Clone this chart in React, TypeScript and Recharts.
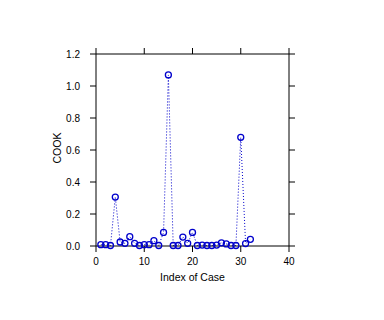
import { ComposedChart, Line, XAxis, YAxis, Label } from 'recharts';

const caseIndex = [
  1, 2, 3, 4, 5, 6, 7, 8, 9, 10, 11, 12, 13, 14, 15, 16,
  17, 18, 19, 20, 21, 22, 23, 24, 25, 26, 27, 28, 29, 30, 31, 32
];

const cookValues = [
  0.008, 0.008, 0.003, 0.306, 0.025, 0.017, 0.058, 0.017, 0.003, 0.008, 0.008, 0.033, 0.003, 0.085, 1.069, 0.003,
  0.003, 0.056, 0.017, 0.085, 0.003, 0.006, 0.003, 0.003, 0.006, 0.02, 0.013, 0.003, 0.003, 0.679, 0.015, 0.042
];

const xTicks = [0, 10, 20, 30, 40];
const yTicks = [0, 0.2, 0.4, 0.6, 0.8, 1.0, 1.2];

const data = caseIndex.map((idx, i) => ({ idx, cook: cookValues[i] }));

const font = 'Liberation Sans, Arial, sans-serif';
const blue = '#0000cc';

export default function App() {
  return (
    <div style={{ position: 'absolute', left: 0, top: 0, background: '#fff' }}>
      <ComposedChart
        width={384}
        height={320}
        data={data}
        margin={{ top: 53, right: 94, bottom: 34, left: 56 }}
      >
        <XAxis
          dataKey="idx"
          type="number"
          domain={[0, 40]}
          ticks={xTicks}
          height={40}
          stroke="#000"
          tickSize={6}
          tickMargin={6}
          tick={{ fill: '#000', fontSize: 10, fontFamily: font }}
        >
          <Label value="Index of Case" position="insideBottom" offset={5} fill="#000" fontSize={10.5} fontFamily={font} />
        </XAxis>
        <XAxis
          xAxisId="top"
          orientation="top"
          dataKey="idx"
          type="number"
          domain={[0, 40]}
          ticks={xTicks}
          height={1}
          stroke="#000"
          tickSize={6}
          tickFormatter={() => ''}
        />
        <YAxis
          type="number"
          domain={[0, 1.2]}
          ticks={yTicks}
          width={40}
          stroke="#000"
          tickSize={6}
          tickMargin={10}
          tickFormatter={(v: number) => v.toFixed(1)}
          tick={{ fill: '#000', fontSize: 10, fontFamily: font }}
          label={{
            content: () => (
              <text
                x={57}
                y={148}
                transform="rotate(-90 57 148)"
                textAnchor="middle"
                dominantBaseline="central"
                fill="#000"
                fontSize={10.5}
                fontFamily={font}
              >
                COOK
              </text>
            )
          }}
        />
        <YAxis
          yAxisId="right"
          orientation="right"
          type="number"
          domain={[0, 1.2]}
          ticks={yTicks}
          width={1}
          stroke="#000"
          tickSize={6}
          tickFormatter={() => ''}
        />
        {/* hidden series so the top and right frame axes get drawn */}
        <Line
          xAxisId="top"
          yAxisId="right"
          dataKey="cook"
          stroke="none"
          dot={false}
          activeDot={false}
          legendType="none"
          isAnimationActive={false}
        />
        <Line
          dataKey="cook"
          type="linear"
          stroke={blue}
          strokeWidth={1}
          strokeDasharray="1 2"
          dot={{ r: 3, stroke: blue, strokeWidth: 1.3, fill: 'none', strokeDasharray: '0' }}
          isAnimationActive={false}
        />
      </ComposedChart>
    </div>
  );
}
